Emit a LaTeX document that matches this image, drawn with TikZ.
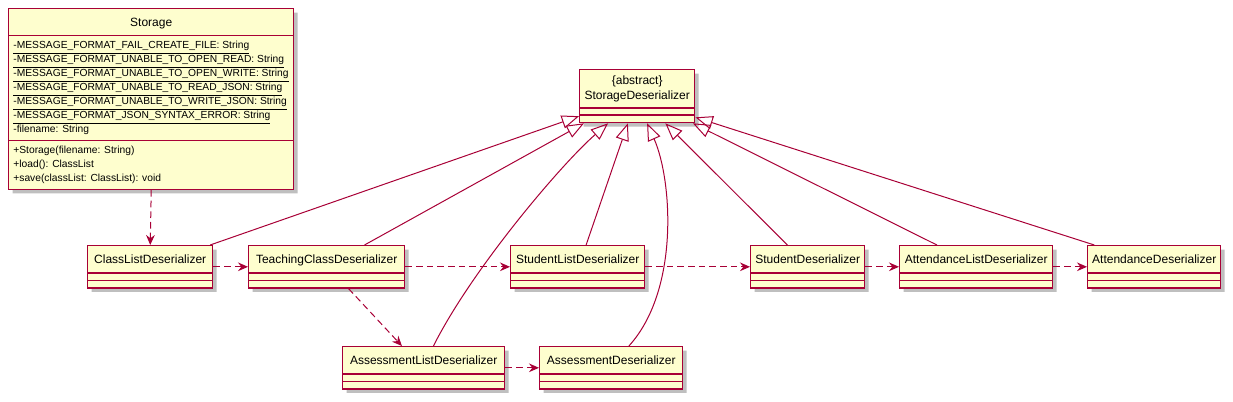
\documentclass[tikz,border=0pt]{standalone}
\usepackage{fontspec}
\setmainfont{Liberation Sans}
\usetikzlibrary{shapes.multipart,arrows.meta,shadows}
\definecolor{umlborder}{HTML}{A80036}
\definecolor{umlfill}{HTML}{FEFECE}
\newcommand{\namestrut}{\rule[-4.6pt]{0pt}{15.1pt}}
\newcommand{\nofields}{\nodepart{two}\rule{1pt}{0pt}\nodepart{three}\rule{1pt}{0pt}}
\newcommand{\memberlist}[1]{{\fontsize{7.7}{10.5}\selectfont\begin{tabular}{@{}l@{}}#1\end{tabular}}}
\newcommand{\static}[1]{\smash{\underline{#1}}}

\begin{document}
\begin{tikzpicture}[
    x=0.75pt, y=-0.75pt,
    umlclass/.style={rectangle split, rectangle split parts=3, rectangle split ignore empty parts=false,
        draw=umlborder, line width=1.1pt, fill=umlfill, inner xsep=3pt, inner ysep=2.2pt,
        anchor=north west, font=\fontsize{9}{10.5}\selectfont,
        drop shadow={shadow xshift=3pt, shadow yshift=-3pt, fill=black, opacity=0.25}},
    extends/.style={draw=umlborder, line width=0.75pt, -{Triangle[open, length=13pt, width=10pt]}},
    uses/.style={draw=umlborder, line width=0.75pt, dash pattern=on 5pt off 3pt, -{Stealth[length=7.5pt, width=6.5pt, inset=2.5pt]}}
]
\useasboundingbox (0,0) rectangle (1233,401);

% Storage
\node[umlclass, minimum width=213.75pt, inner ysep=2pt, inner xsep=3.5pt, rectangle split part align={center,left,left}] (storage) at (8,8) {\namestrut Storage
    \nodepart{two}\memberlist{\static{-MESSAGE\_FORMAT\_FAIL\_CREATE\_FILE: String}\\
        \static{-MESSAGE\_FORMAT\_UNABLE\_TO\_OPEN\_READ: String}\\
        \static{-MESSAGE\_FORMAT\_UNABLE\_TO\_OPEN\_WRITE: String}\\
        \static{-MESSAGE\_FORMAT\_UNABLE\_TO\_READ\_JSON: String}\\
        \static{-MESSAGE\_FORMAT\_UNABLE\_TO\_WRITE\_JSON: String}\\
        \static{-MESSAGE\_FORMAT\_JSON\_SYNTAX\_ERROR: String}\\
        -filename: String}
    \nodepart{three}\memberlist{+Storage(filename: String)\\
        +load(): ClassList\\
        +save(classList: ClassList): void}};

% Abstract parent
\node[umlclass, minimum width=86.25pt] (sdeser) at (579,69) {\def\arraystretch{1.1}\begin{tabular}{@{}c@{}}\{abstract\}\\StorageDeserializer\end{tabular}\nofields};

% Deserializers
\node[umlclass, minimum width=93.75pt] (classlist) at (87,245) {\namestrut ClassListDeserializer\nofields};
\node[umlclass, minimum width=117pt] (teaching) at (248,245) {\namestrut TeachingClassDeserializer\nofields};
\node[umlclass, minimum width=100.5pt] (studentlist) at (510,245) {\namestrut StudentListDeserializer\nofields};
\node[umlclass, minimum width=85.5pt] (student) at (750,245) {\namestrut StudentDeserializer\nofields};
\node[umlclass, minimum width=114.75pt] (attlist) at (899,245) {\namestrut AttendanceListDeserializer\nofields};
\node[umlclass, minimum width=99.75pt] (attendance) at (1087,245) {\namestrut AttendanceDeserializer\nofields};
\node[umlclass, minimum width=121.5pt] (asslist) at (342,346) {\namestrut AssessmentListDeserializer\nofields};
\node[umlclass, minimum width=107.25pt] (assessment) at (539,346) {\namestrut AssessmentDeserializer\nofields};

% Dependencies
\draw[uses] (storage.south) -- (classlist.north);
\draw[uses] (classlist.east) -- (teaching.west);
\draw[uses] (teaching.east) -- (studentlist.west);
\draw[uses] (teaching.-45) -- (asslist.135);
\draw[uses] (studentlist.east) -- (student.west);
\draw[uses] (student.east) -- (attlist.west);
\draw[uses] (attlist.east) -- (attendance.west);
\draw[uses] (asslist.east) -- (assessment.west);

% Inheritance
\draw[extends] (classlist.20) -- (sdeser.199.6);
\draw[extends] (teaching.30) -- (sdeser.207.6);
\draw[extends] (asslist.66.8) .. controls +(38,-76) and +(-47,41) .. (sdeser.223);
\draw[extends] (studentlist.69.1) -- (sdeser.251);
\draw[extends] (assessment.51.8) .. controls +(51,-56) and +(25,56) .. (sdeser.290.9);
\draw[extends] (student.133.6) -- (sdeser.316);
\draw[extends] (attlist.151.4) -- (sdeser.334);
\draw[extends] (attendance.160.9) -- (sdeser.340.4);

\end{tikzpicture}
\end{document}
